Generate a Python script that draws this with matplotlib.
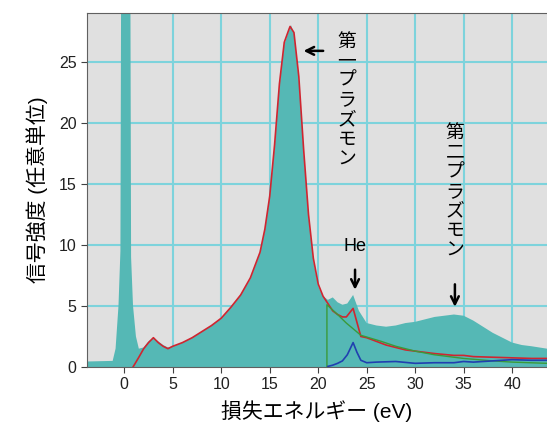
import numpy as np
import matplotlib.pyplot as plt

plt.rcParams['font.family'] = ['Liberation Sans', 'Noto Sans CJK JP', 'DejaVu Sans']

# 測定スペクトル (塗りつぶし)
spec_x = [-3.85, -1.2, -0.9, -0.6, -0.4, -0.3, 0.6, 0.7, 0.9, 1.2, 1.5, 2.0, 2.5,
          3.0, 3.5, 4.0, 4.5, 5, 6, 7, 8, 9, 10, 11, 12, 13, 14, 14.5, 15, 15.5,
          16, 16.5, 17, 17.2, 17.5, 18, 18.5, 19, 19.5, 20, 20.5, 21, 21.5, 22,
          22.5, 23, 23.6, 24.2, 25, 26, 27, 28, 29, 30, 31, 32, 33, 34, 35, 36,
          37, 38, 39, 40, 41, 42, 43.6]
spec_y = [0.45, 0.5, 1.5, 5.0, 9.5, 40, 40, 9.0, 5.0, 2.5, 1.5, 1.6, 2.1,
          2.4, 2.1, 1.8, 1.6, 1.7, 2.0, 2.4, 2.9, 3.4, 4.0, 4.9, 5.9, 7.2, 9.3, 11.2, 13.9, 18.0,
          23.0, 26.4, 27.6, 28.0, 27.3, 23.5, 17.5, 12.3, 8.7, 6.6, 5.8, 5.5, 5.7, 5.3,
          5.1, 5.2, 5.9, 4.6, 3.6, 3.4, 3.3, 3.4, 3.6, 3.7, 3.9, 4.1, 4.2, 4.3, 4.2, 3.8,
          3.3, 2.8, 2.4, 2.0, 1.8, 1.7, 1.5]

# フィット (赤)
fit_x = [0.9, 1.5, 2.0, 2.5, 3.0, 3.5, 4.0, 4.5, 5, 6, 7, 8, 9, 10, 11, 12, 13, 14,
         14.5, 15, 15.5, 16, 16.5, 17, 17.1, 17.5, 18, 18.5, 19, 19.5, 20, 20.5, 21,
         21.5, 22, 22.5, 22.9, 23.6, 24.4, 25, 26, 27, 28, 29, 30, 32, 34, 35, 36, 38,
         40, 42, 43.6]
fit_y = [0.0, 0.8, 1.5, 2.0, 2.4, 2.0, 1.7, 1.5, 1.7, 2.0, 2.4, 2.9, 3.4, 4.0, 4.9, 5.9, 7.3, 9.4,
         11.3, 14.0, 18.2, 23.2, 26.6, 27.7, 27.9, 27.4, 23.8, 17.8, 12.5, 8.9, 6.8, 5.8, 5.2,
         4.6, 4.3, 4.1, 4.1, 4.8, 2.5, 2.4, 2.1, 1.8, 1.6, 1.4, 1.3, 1.1, 0.95, 0.95, 0.85, 0.8,
         0.75, 0.7, 0.7]

# バックグラウンド (緑)
bg_x = [20.9, 20.9, 22.0, 22.9, 24.4, 26.5, 28, 30, 32, 35, 38, 40, 43.6]
bg_y = [0.0, 5.1, 4.3, 3.6, 2.6, 2.1, 1.7, 1.3, 1.0, 0.7, 0.5, 0.4, 0.3]

# 差分 (青)
diff_x = [21, 21.5, 22, 22.5, 23, 23.6, 24.0, 24.4, 25, 26, 28, 30, 32, 34, 35, 36, 38,
          40, 42, 43.6]
diff_y = [0.05, 0.15, 0.3, 0.5, 1.0, 2.0, 1.2, 0.55, 0.35, 0.4, 0.45, 0.3, 0.35, 0.35, 0.45,
          0.4, 0.5, 0.6, 0.55, 0.55]

fig = plt.figure(figsize=(5.47, 4.34), dpi=100)
ax = fig.add_axes([0.159, 0.1544, 0.841, 0.8156])
ax.set_facecolor('#e0e0e0')

ax.fill_between(spec_x, spec_y, color='#55b8b5', lw=0, zorder=2)
ax.plot(fit_x, fit_y, color='#d02530', lw=1.2, zorder=3)
ax.plot(bg_x, bg_y, color='#3a9a3a', lw=1.0, zorder=3)
ax.plot(diff_x, diff_y, color='#2040b0', lw=1.2, zorder=3)

ax.set_xlim(-3.85, 43.6)
ax.set_ylim(0, 29)
ax.set_xticks([0, 5, 10, 15, 20, 25, 30, 35, 40])
ax.set_yticks([0, 5, 10, 15, 20, 25])
ax.grid(True, color='#7dd3dc', lw=1.5)
ax.set_axisbelow(True)
for s in ax.spines.values():
    s.set_color('#606060')
ax.spines['right'].set_visible(False)
ax.tick_params(labelsize=11.5, length=4, color='#404040', labelcolor='#202020')

ax.set_xlabel('損失エネルギー (eV)', fontsize=15, labelpad=6)
ax.set_ylabel('信号強度 (任意単位)', fontsize=15, labelpad=8)

# 注釈
ax.text(22.95, 27.3, '第\n一\nプ\nラ\nズ\nモ\nン', fontsize=13.5, ha='center', va='top',
        linespacing=1.2)
ax.text(34.1, 19.8, '第\n二\nプ\nラ\nズ\nモ\nン', fontsize=13.5, ha='center', va='top',
        linespacing=1.2)
ax.text(23.8, 9.85, 'He', fontsize=13, ha='center', va='center')

arrow = dict(arrowstyle='->', color='black', lw=1.8, mutation_scale=14)
ax.annotate('', xy=(18.2, 25.9), xytext=(20.8, 25.9), arrowprops=arrow)
ax.annotate('', xy=(23.8, 6.1), xytext=(23.8, 8.2), arrowprops=arrow)
ax.annotate('', xy=(34.1, 4.7), xytext=(34.1, 7.0), arrowprops=arrow)

fig.savefig('out.png')
